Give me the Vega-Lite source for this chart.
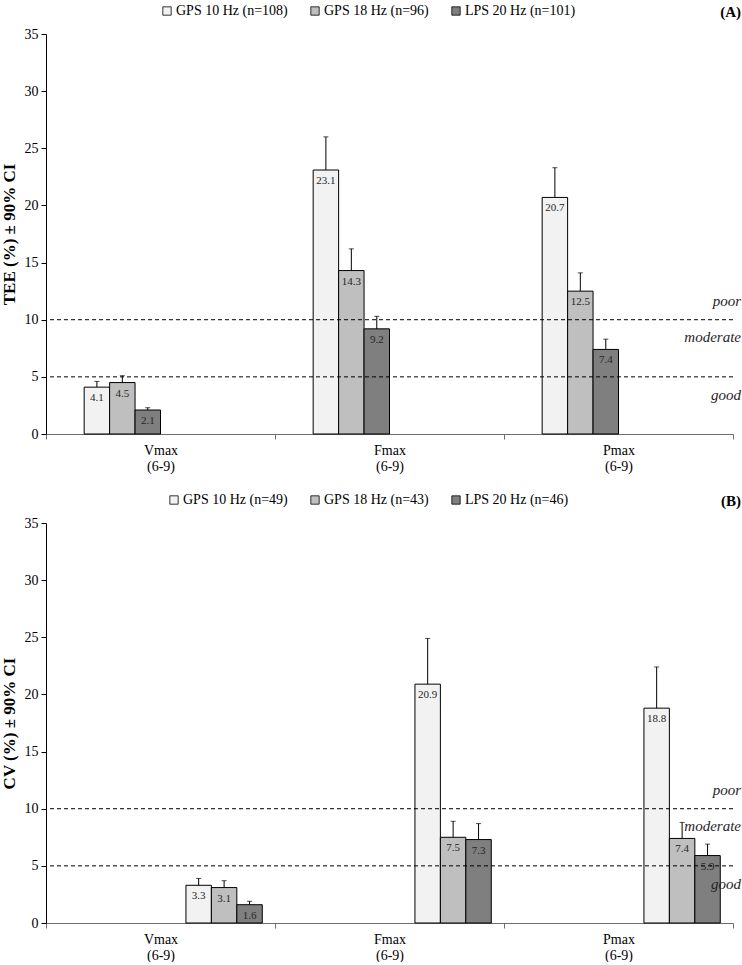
{
  "$schema": "https://vega.github.io/schema/vega-lite/v6.json",
  "background": "white",
  "padding": {"left": 0, "top": 4, "right": 2, "bottom": 0},
  "config": {
    "view": {"stroke": null},
    "font": "Liberation Serif",
    "axis": {"labelFont": "Liberation Serif", "titleFont": "Liberation Serif", "labelColor": "black", "titleColor": "black"}
  },
  "datasets": {
    "tee": [
      {"metric": "Vmax", "series": "GPS 10 Hz (n=108)", "value": 4.1, "upper": 4.6},
      {"metric": "Vmax", "series": "GPS 18 Hz (n=96)", "value": 4.5, "upper": 5.1},
      {"metric": "Vmax", "series": "LPS 20 Hz (n=101)", "value": 2.1, "upper": 2.3},
      {"metric": "Fmax", "series": "GPS 10 Hz (n=108)", "value": 23.1, "upper": 26.0},
      {"metric": "Fmax", "series": "GPS 18 Hz (n=96)", "value": 14.3, "upper": 16.2},
      {"metric": "Fmax", "series": "LPS 20 Hz (n=101)", "value": 9.2, "upper": 10.3},
      {"metric": "Pmax", "series": "GPS 10 Hz (n=108)", "value": 20.7, "upper": 23.3},
      {"metric": "Pmax", "series": "GPS 18 Hz (n=96)", "value": 12.5, "upper": 14.1},
      {"metric": "Pmax", "series": "LPS 20 Hz (n=101)", "value": 7.4, "upper": 8.3}
    ],
    "cv": [
      {"metric": "Vmax", "series": "GPS 10 Hz (n=49)", "value": 3.3, "upper": 3.9},
      {"metric": "Vmax", "series": "GPS 18 Hz (n=43)", "value": 3.1, "upper": 3.7},
      {"metric": "Vmax", "series": "LPS 20 Hz (n=46)", "value": 1.6, "upper": 1.9},
      {"metric": "Fmax", "series": "GPS 10 Hz (n=49)", "value": 20.9, "upper": 24.9},
      {"metric": "Fmax", "series": "GPS 18 Hz (n=43)", "value": 7.5, "upper": 8.9},
      {"metric": "Fmax", "series": "LPS 20 Hz (n=46)", "value": 7.3, "upper": 8.7},
      {"metric": "Pmax", "series": "GPS 10 Hz (n=49)", "value": 18.8, "upper": 22.4},
      {"metric": "Pmax", "series": "GPS 18 Hz (n=43)", "value": 7.4, "upper": 8.8},
      {"metric": "Pmax", "series": "LPS 20 Hz (n=46)", "value": 5.9, "upper": 6.9}
    ],
    "thresholds": [{"level": 10}, {"level": 5}],
    "zones": [
      {"label": "poor", "pos": 11.6},
      {"label": "moderate", "pos": 8.5},
      {"label": "good", "pos": 3.4}
    ]
  },
  "spacing": 20,
  "resolve": {"scale": {"color": "independent"}, "legend": {"color": "independent"}},
  "vconcat": [
    {
      "width": 687,
      "height": 400,
      "encoding": {
        "x": {
          "field": "metric", "type": "nominal", "sort": ["Vmax", "Fmax", "Pmax"],
          "scale": {"type": "band", "paddingInner": 0, "paddingOuter": 0},
          "axis": {"title": null, "labelExpr": "datum.label ? [datum.label, '(6-9)'] : ''", "tickBand": "extent", "labelAngle": 0,
                   "domainColor": "#6e6e6e", "tickColor": "#6e6e6e", "tickSize": 5, "labelPadding": 4,
                   "labelFontSize": 14, "labelLineHeight": 16}
        },
        "xOffset": {"field": "series", "type": "nominal",
                    "scale": {"type": "band", "domain": ["pad-left", "GPS 10 Hz (n=108)", "GPS 18 Hz (n=96)", "LPS 20 Hz (n=101)", "pad-right"], "paddingInner": 0, "paddingOuter": 0.5}}
      },
      "layer": [
        {
          "data": {"name": "tee"},
          "mark": {"type": "bar", "stroke": "black", "strokeWidth": 1, "width": {"band": 1}},
          "encoding": {
            "y": {
              "field": "value", "type": "quantitative",
              "scale": {"domain": [0, 35], "nice": false},
              "axis": {"title": "TEE (%) ± 90% CI", "titleFontSize": 17, "titleFontWeight": "bold", "titlePadding": 6,
                       "values": [0, 5, 10, 15, 20, 25, 30, 35], "grid": false, "domainColor": "black", "tickColor": "black",
                       "tickSize": 5, "labelPadding": 3, "labelFontSize": 14}
            },
            "color": {
              "field": "series", "type": "nominal",
              "scale": {"domain": ["GPS 10 Hz (n=108)", "GPS 18 Hz (n=96)", "LPS 20 Hz (n=101)"], "range": ["#f2f2f2", "#bfbfbf", "#7f7f7f"]},
              "legend": {"orient": "none", "legendX": 114, "legendY": -30, "direction": "horizontal", "title": null,
                         "symbolType": "square", "symbolSize": 70, "symbolStrokeColor": "black", "symbolStrokeWidth": 0.8,
                         "labelFont": "Liberation Serif", "labelFontSize": 14, "labelColor": "black", "columnPadding": 20, "labelOffset": 2}
            }
          }
        },
        {
          "data": {"name": "tee"},
          "mark": {"type": "rule", "color": "black", "strokeWidth": 1},
          "encoding": {
            "y": {"field": "value", "type": "quantitative"},
            "y2": {"field": "upper"}
          }
        },
        {
          "data": {"name": "tee"},
          "mark": {"type": "tick", "color": "black", "thickness": 1, "size": 5, "orient": "horizontal"},
          "encoding": {
            "y": {"field": "upper", "type": "quantitative"}
          }
        },
        {
          "data": {"name": "tee"},
          "mark": {"type": "text", "baseline": "top", "dy": 5, "fontSize": 11, "color": "#262626"},
          "encoding": {
            "y": {"field": "value", "type": "quantitative"},
            "text": {"field": "value", "format": ".1f"}
          }
        },
        {
          "data": {"name": "thresholds"},
          "mark": {"type": "rule", "color": "black", "strokeWidth": 1, "strokeDash": [4, 3]},
          "encoding": {"x": null, "xOffset": null, "y": {"field": "level", "type": "quantitative"}}
        },
        {
          "data": {"name": "zones"},
          "mark": {"type": "text", "align": "right", "baseline": "middle", "dx": 8, "fontStyle": "italic", "fontSize": 15, "color": "#262626"},
          "encoding": {
            "x": {"datum": "Pmax", "bandPosition": 1},
            "xOffset": null,
            "y": {"field": "pos", "type": "quantitative"},
            "text": {"field": "label"}
          }
        },
        {
          "data": {"values": [{"label": "(A)"}]},
          "mark": {"type": "text", "align": "right", "baseline": "middle", "dx": 8, "dy": -22, "fontWeight": "bold", "fontSize": 15, "color": "black"},
          "encoding": {
            "x": {"datum": "Pmax", "bandPosition": 1},
            "xOffset": null,
            "y": {"datum": 35, "type": "quantitative"},
            "text": {"field": "label"}
          }
        }
      ]
    },
    {
      "width": 687,
      "height": 400,
      "encoding": {
        "x": {
          "field": "metric", "type": "nominal", "sort": ["Vmax", "Fmax", "Pmax"],
          "scale": {"type": "band", "paddingInner": 0, "paddingOuter": 0},
          "axis": {"title": null, "labelExpr": "datum.label ? [datum.label, '(6-9)'] : ''", "tickBand": "extent", "labelAngle": 0,
                   "domainColor": "#6e6e6e", "tickColor": "#6e6e6e", "tickSize": 5, "labelPadding": 4,
                   "labelFontSize": 14, "labelLineHeight": 16}
        },
        "xOffset": {"field": "series", "type": "nominal",
                    "scale": {"type": "band", "domain": ["pad-left", "GPS 10 Hz (n=49)", "GPS 18 Hz (n=43)", "LPS 20 Hz (n=46)", "pad-right"], "paddingInner": 0, "paddingOuter": 0.5}}
      },
      "layer": [
        {
          "data": {"name": "cv"},
          "mark": {"type": "bar", "stroke": "black", "strokeWidth": 1, "width": {"band": 1}},
          "encoding": {
            "y": {
              "field": "value", "type": "quantitative",
              "scale": {"domain": [0, 35], "nice": false},
              "axis": {"title": "CV (%) ± 90% CI", "titleFontSize": 17, "titleFontWeight": "bold", "titlePadding": 6,
                       "values": [0, 5, 10, 15, 20, 25, 30, 35], "grid": false, "domainColor": "black", "tickColor": "black",
                       "tickSize": 5, "labelPadding": 3, "labelFontSize": 14}
            },
            "color": {
              "field": "series", "type": "nominal",
              "scale": {"domain": ["GPS 10 Hz (n=49)", "GPS 18 Hz (n=43)", "LPS 20 Hz (n=46)"], "range": ["#f2f2f2", "#bfbfbf", "#7f7f7f"]},
              "legend": {"orient": "none", "legendX": 121, "legendY": -30, "direction": "horizontal", "title": null,
                         "symbolType": "square", "symbolSize": 70, "symbolStrokeColor": "black", "symbolStrokeWidth": 0.8,
                         "labelFont": "Liberation Serif", "labelFontSize": 14, "labelColor": "black", "columnPadding": 20, "labelOffset": 2}
            }
          }
        },
        {
          "data": {"name": "cv"},
          "mark": {"type": "rule", "color": "black", "strokeWidth": 1},
          "encoding": {
            "y": {"field": "value", "type": "quantitative"},
            "y2": {"field": "upper"}
          }
        },
        {
          "data": {"name": "cv"},
          "mark": {"type": "tick", "color": "black", "thickness": 1, "size": 5, "orient": "horizontal"},
          "encoding": {
            "y": {"field": "upper", "type": "quantitative"}
          }
        },
        {
          "data": {"name": "cv"},
          "mark": {"type": "text", "baseline": "top", "dy": 5, "fontSize": 11, "color": "#262626"},
          "encoding": {
            "y": {"field": "value", "type": "quantitative"},
            "text": {"field": "value", "format": ".1f"}
          }
        },
        {
          "data": {"name": "thresholds"},
          "mark": {"type": "rule", "color": "black", "strokeWidth": 1, "strokeDash": [4, 3]},
          "encoding": {"x": null, "xOffset": null, "y": {"field": "level", "type": "quantitative"}}
        },
        {
          "data": {"name": "zones"},
          "mark": {"type": "text", "align": "right", "baseline": "middle", "dx": 8, "fontStyle": "italic", "fontSize": 15, "color": "#262626"},
          "encoding": {
            "x": {"datum": "Pmax", "bandPosition": 1},
            "xOffset": null,
            "y": {"field": "pos", "type": "quantitative"},
            "text": {"field": "label"}
          }
        },
        {
          "data": {"values": [{"label": "(B)"}]},
          "mark": {"type": "text", "align": "right", "baseline": "middle", "dx": 8, "dy": -22, "fontWeight": "bold", "fontSize": 15, "color": "black"},
          "encoding": {
            "x": {"datum": "Pmax", "bandPosition": 1},
            "xOffset": null,
            "y": {"datum": 35, "type": "quantitative"},
            "text": {"field": "label"}
          }
        }
      ]
    }
  ]
}
